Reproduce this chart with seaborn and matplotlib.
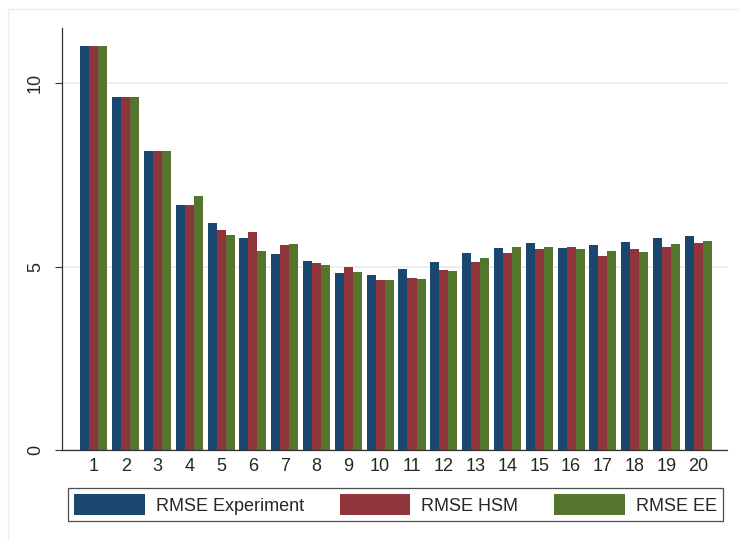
import matplotlib
matplotlib.use("Agg")
import matplotlib.pyplot as plt
import seaborn as sns
import pandas as pd
from matplotlib.patches import Rectangle

categories = [str(i) for i in range(1, 21)]
rmse_experiment = [11.02, 9.61, 8.16, 6.69, 6.18, 5.77, 5.34, 5.14, 4.82, 4.78,
                   4.92, 5.11, 5.36, 5.51, 5.64, 5.50, 5.60, 5.68, 5.77, 5.82]
rmse_hsm = [11.02, 9.61, 8.16, 6.69, 6.00, 5.95, 5.58, 5.10, 4.98, 4.63,
            4.70, 4.90, 5.11, 5.36, 5.47, 5.54, 5.29, 5.49, 5.54, 5.63]
rmse_ee = [11.02, 9.61, 8.14, 6.91, 5.86, 5.43, 5.62, 5.04, 4.84, 4.63,
           4.65, 4.88, 5.24, 5.52, 5.53, 5.49, 5.42, 5.40, 5.61, 5.70]
series_names = ["RMSE Experiment", "RMSE HSM", "RMSE EE"]
colors = ["#1a476f", "#90353b", "#55752f"]
yticks = [0, 5, 10]

rows = []
for name, vals in zip(series_names, [rmse_experiment, rmse_hsm, rmse_ee]):
    for c, v in zip(categories, vals):
        rows.append({"cat": c, "series": name, "value": v})
df = pd.DataFrame(rows)

sns.set_style("white")
plt.rcParams['font.family'] = ['Liberation Sans', 'DejaVu Sans']

fig = plt.figure(figsize=(7.39, 5.4), dpi=100)
W, H = 739, 540
ax = fig.add_axes([62 / W, 1 - 450 / H, (727 - 62) / W, (450 - 28) / H])

sns.barplot(data=df, x="cat", y="value", hue="series", order=categories,
            hue_order=series_names, palette=colors, saturation=1,
            width=0.85, gap=0, ax=ax, legend=True, linewidth=0.6,
            edgecolor="none")

ax.set_ylim(0, 11.5)
ax.set_xlim(-1.0, 19.9)
ax.set_yticks(yticks)
ax.set_yticklabels([str(t) for t in yticks], rotation=90, va="center", fontsize=13)
ax.tick_params(axis="y", length=5, width=0.8, color="#333333", pad=8, left=True)
ax.tick_params(axis="x", length=0, labelsize=13, pad=6)
ax.set_xlabel("")
ax.set_ylabel("")
ax.grid(axis="y", color="#e6eef0", linewidth=1.3)
ax.set_axisbelow(True)
for s in ["top", "right"]:
    ax.spines[s].set_visible(False)
for s in ["left", "bottom"]:
    ax.spines[s].set_color("#333333")
    ax.spines[s].set_linewidth(0.9)

handles, labels = ax.get_legend_handles_labels()
ax.get_legend().remove()
leg = fig.legend(handles, labels, ncol=3, mode="expand",
                 bbox_to_anchor=(68 / W, 1 - 522 / H, (723 - 68) / W, 35 / H),
                 loc="center", fontsize=13, handlelength=3.9, handleheight=1.4,
                 handletextpad=0.6, borderaxespad=0, frameon=True, fancybox=False,
                 borderpad=0.35)
leg.get_frame().set_edgecolor("#222222")
leg.get_frame().set_linewidth(0.9)

fig.patches.append(Rectangle((8 / W, -0.1), 1.2, 1 - 9 / H + 0.1, transform=fig.transFigure,
                             fill=False, edgecolor="#eeeeee", linewidth=1.0))

fig.savefig("out.png", dpi=100)
